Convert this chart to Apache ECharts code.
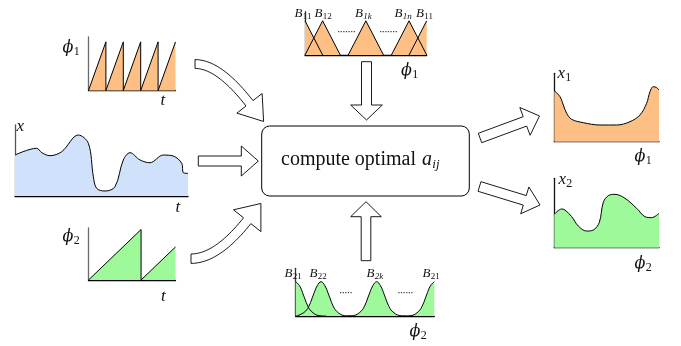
<!DOCTYPE html>
<html>
<head>
<meta charset="utf-8">
<script src="https://cdn.jsdelivr.net/npm/echarts@6/dist/echarts.min.js"></script>
<style>
  html, body { margin: 0; padding: 0; background: #fff; }
  #chart { width: 681px; height: 346px; }
</style>
</head>
<body>
<div id="chart"></div>
<script>
// ---------- values ----------
// phase signal phi1: sawtooth, five periods
const phi1Saw = [[0,0],[1,1],[1,0],[2,1],[2,0],[3,1],[3,0],[4,1],[4,0],[5,1]];
// phase signal phi2: slower sawtooth, one and a bit periods
const phi2Saw = [[0,0],[1,1],[1,0],[1.655,0.655]];

// measured signal x(t)
const xSignal = [
  [0,0.577],[1.25,0.672],[1.55,0.61],[2.02,0.568],[2.70,0.624],[3.66,0.859],
  [4.24,0.742],[4.53,0.272],[4.72,0.108],[5.20,0.070],[5.78,0.131],[6.26,0.507],
  [6.65,0.610],[7.23,0.507],[7.80,0.469],[8.57,0.577],[9.15,0.563],[9.64,0.460],
  [9.73,0.328],[10,0.319]
];

// triangular basis functions over phi1
const triB11a = [[0,1],[1,0]];
const triB12  = [[0,0],[1,1],[2,0]];
const triB1k  = [[2.45,0],[3.45,1],[4.45,0]];
const triB1n  = [[4.9,0],[5.9,1],[6.9,0]];
const triB11b = [[5.9,0],[6.9,1]];

// bump basis functions over phi2
const bumpB21a = [[0,1],[2.8,0.88],[5.6,0.61],[8.4,0.32],[11.2,0.14],[16.8,0.01],[22,0]];
const bumpB22  = [[0,0],[1.5,0.01],[7.1,0.14],[9.9,0.32],[12.7,0.61],[15.5,0.88],[18.3,1],
                  [21.1,0.88],[23.9,0.61],[26.7,0.32],[29.5,0.14],[35.1,0.01],[40,0]];
const bumpB2k  = [[38,0],[41.6,0.01],[47.2,0.14],[50,0.32],[52.8,0.61],[55.6,0.88],[58.4,1],
                  [61.2,0.88],[64,0.61],[66.8,0.32],[69.6,0.14],[75.2,0.01],[79,0]];
const bumpB21b = [[78,0],[83.2,0.01],[88.8,0.14],[91.6,0.32],[94.4,0.61],[97.2,0.88],[100,1]];

// estimated output curves x1(phi1), x2(phi2)
const x1Curve = [
  [0,0.746],[0.054,0.659],[0.086,0.537],[0.118,0.415],[0.166,0.327],[0.277,0.278],
  [0.436,0.244],[0.596,0.244],[0.723,0.293],[0.818,0.390],[0.882,0.561],[0.914,0.732],
  [0.946,0.805],[0.978,0.790],[1.0,0.756]
];
const x2Curve = [
  [0,0.481],[0.070,0.558],[0.102,0.543],[0.166,0.447],[0.229,0.313],[0.309,0.240],
  [0.373,0.255],[0.430,0.365],[0.468,0.654],[0.516,0.750],[0.580,0.769],[0.675,0.712],
  [0.787,0.567],[0.866,0.447],[0.930,0.433],[1.0,0.495]
];

// text
const boxText = 'compute optimal';
const topLabels = [['B','11'],['B','12'],['B','1k'],['B','1n'],['B','11']];
const bottomLabels = [['B','21'],['B','22'],['B','2k'],['B','21']];

// ---------- styling ----------
const ORANGE = '#fdbf83';
const GREEN = '#9ef99a';
const BLUE = '#d0e1fb';
const SERIF = '"Liberation Serif","DejaVu Serif",serif';
const PHI_FONT = '"DejaVu Serif",serif';

const chart = echarts.init(document.getElementById('chart'), null, { renderer: 'canvas' });

// panel layout: [left, top, width, height, xmin, xmax, ymax, yAxisColor]
const panels = [
  [88.5, 37, 87, 53.5, 0, 5, 1.1, '#6a6a6a'],        // 0 phi1 sawtooth
  [15, 125, 173, 71, 0, 10, 1, '#555'],              // 1 x(t)
  [88.5, 228, 87, 52, 0, 1.655, 1.03, '#6a6a6a'],    // 2 phi2 sawtooth
  [305, 11.7, 121.7, 43.3, 0, 6.9, 1.266, '#333'],   // 3 B1 basis
  [295.7, 268.3, 138.6, 47.7, 0, 100, 1.39, '#333'], // 4 B2 basis
  [554.3, 73.3, 104.7, 68.4, 0, 1, 1, '#111'],       // 5 x1
  [554.3, 178.3, 104.7, 69.4, 0, 1, 1, '#111']       // 6 x2
];

const grids = panels.map(p => ({ left: p[0], top: p[1], width: p[2], height: p[3] }));
const xAxes = panels.map((p, i) => ({
  gridIndex: i, type: 'value', min: p[4], max: p[5],
  axisLine: { show: true, onZero: false, lineStyle: { color: '#000', width: 1.3 } },
  axisTick: { show: false }, axisLabel: { show: false }, splitLine: { show: false }
}));
const yAxes = panels.map((p, i) => ({
  gridIndex: i, type: 'value', min: 0, max: p[6],
  axisLine: { show: true, onZero: false, lineStyle: { color: p[7], width: 1.3 } },
  axisTick: { show: false }, axisLabel: { show: false }, splitLine: { show: false }
}));

function filled(data, idx, color, smooth) {
  return {
    type: 'line', data, xAxisIndex: idx, yAxisIndex: idx, showSymbol: false,
    smooth: smooth || false, animation: false, z: 3,
    lineStyle: { color: '#000', width: 1 },
    areaStyle: { color, opacity: 1 }
  };
}
// basis functions: fills first, outlines drawn over every fill
function basisFill(data, idx, color, smooth) {
  return {
    type: 'line', data, xAxisIndex: idx, yAxisIndex: idx, showSymbol: false,
    smooth: smooth || false, animation: false, z: 2,
    lineStyle: { width: 0, opacity: 0 },
    areaStyle: { color, opacity: 1 }
  };
}
function basisLine(data, idx, smooth) {
  return {
    type: 'line', data, xAxisIndex: idx, yAxisIndex: idx, showSymbol: false,
    smooth: smooth || false, animation: false, z: 4,
    lineStyle: { color: '#000', width: 1 }
  };
}

const tris = [triB11a, triB12, triB1k, triB1n, triB11b];
const bumps = [bumpB21a, bumpB22, bumpB2k, bumpB21b];

const series = [
  filled(phi1Saw, 0, ORANGE),
  filled(xSignal, 1, BLUE, 0.35),
  filled(phi2Saw, 2, GREEN),
  ...tris.map(d => basisFill(d, 3, ORANGE)),
  ...tris.map(d => basisLine(d, 3)),
  ...bumps.map(d => basisFill(d, 4, GREEN, 0.4)),
  ...bumps.map(d => basisLine(d, 4, 0.4)),
  filled(x1Curve, 5, ORANGE, 0.35),
  filled(x2Curve, 6, GREEN, 0.35)
];

// ---------- annotation graphics ----------
const measureCtx = document.createElement('canvas').getContext('2d');
function textWidth(str, font) { measureCtx.font = font; return measureCtx.measureText(str).width; }

function txt(x, y, text, font) {
  return { type: 'text', x, y, z: 20,
    style: { text, font, fill: '#111', align: 'left', verticalAlign: 'middle',
             textAlign: 'left', textVerticalAlign: 'middle' } };
}
// symbol with subscript
function sym(x, y, base, sub, size, subSize, subItalic, subDy, family) {
  const f1 = `italic ${size}px ${family || SERIF}`;
  const f2 = `${subItalic ? 'italic ' : ''}${subSize}px ${SERIF}`;
  const w = textWidth(base, f1);
  const out = [txt(x, y, base, f1)];
  if (sub) out.push(txt(x + w + 0.3, y + subDy, sub, f2));
  return out;
}
function subItalic(s) { return /[a-z]/.test(s); }

// arrows drawn as outlined polygons
function straightArrow(sx, sy, tx, ty, w, hw, hl) {
  const L = Math.hypot(tx - sx, ty - sy);
  const dx = (tx - sx) / L, dy = (ty - sy) / L, nx = -dy, ny = dx;
  const bx = tx - dx * hl, by = ty - dy * hl;
  return arrowShape([
    [sx + nx * w, sy + ny * w], [bx + nx * w, by + ny * w], [bx + nx * hw, by + ny * hw],
    [tx, ty],
    [bx - nx * hw, by - ny * hw], [bx - nx * w, by - ny * w], [sx - nx * w, sy - ny * w]
  ]);
}
function curvedArrow(p0, c, p1, w, hw, hl) {
  const N = 24, left = [], right = [];
  let dx = 0, dy = 0;
  for (let i = 0; i <= N; i++) {
    const t = i / N, u = 1 - t;
    const x = u * u * p0[0] + 2 * u * t * c[0] + t * t * p1[0];
    const y = u * u * p0[1] + 2 * u * t * c[1] + t * t * p1[1];
    const tx = 2 * u * (c[0] - p0[0]) + 2 * t * (p1[0] - c[0]);
    const ty = 2 * u * (c[1] - p0[1]) + 2 * t * (p1[1] - c[1]);
    const L = Math.hypot(tx, ty);
    dx = tx / L; dy = ty / L;
    left.push([x - dy * w, y + dx * w]);
    right.push([x + dy * w, y - dx * w]);
  }
  const nx = -dy, ny = dx;
  const tip = [p1[0] + dx * hl, p1[1] + dy * hl];
  const pts = left.concat([
    [p1[0] + nx * hw, p1[1] + ny * hw], tip, [p1[0] - nx * hw, p1[1] - ny * hw]
  ], right.reverse());
  return arrowShape(pts);
}
function arrowShape(points) {
  return { type: 'polygon', z: 15, shape: { points },
    style: { fill: '#fff', stroke: '#000', lineWidth: 0.9, lineJoin: 'miter' } };
}
function dotted(x1, y, x2) {
  return { type: 'line', z: 15, shape: { x1, y1: y, x2, y2: y },
    style: { stroke: '#000', lineWidth: 0.9, lineDash: [1.3, 1.3] } };
}

const graphics = [];
// central box
graphics.push({ type: 'rect', z: 10, shape: { x: 261.7, y: 126, width: 207.6, height: 70, r: 8 },
  style: { fill: '#fff', stroke: '#000', lineWidth: 1 } });
const boxFont = `20px ${SERIF}`;
const boxLeft = 281;
graphics.push(txt(boxLeft, 159.5, boxText, boxFont));
const aLeft = boxLeft + textWidth(boxText + ' ', boxFont) + 1;
graphics.push(...sym(aLeft, 159.5, 'a', 'ij', 20, 13, true, 5));

// arrows
graphics.push(curvedArrow([195, 64], [219, 64], [249.5, 103.3], 4.4, 16, 23));
graphics.push(curvedArrow([191, 258.7], [217, 258.7], [247.2, 220.7], 4.7, 17.5, 22));
graphics.push(straightArrow(198.3, 161, 258.3, 161, 5, 15, 17));
graphics.push(straightArrow(366.5, 61.7, 366.5, 120, 5, 15.8, 15));
graphics.push(straightArrow(366, 260.7, 366, 201.7, 4.8, 15.3, 15));
graphics.push(straightArrow(480, 138, 539.5, 116, 5, 14.8, 15.5));
graphics.push(straightArrow(479.5, 186.5, 540, 205, 5, 14, 15.9));

// dotted gaps between basis functions
graphics.push(dotted(338, 31.7, 356), dotted(380, 31.7, 397));
graphics.push(dotted(340, 292.7, 352), dotted(398.3, 292.7, 413.3));

// axis symbols
const SYM = 16, SUB = 12, LET = 17;
graphics.push(...sym(62.5, 48, 'ϕ', '1', SYM, SUB, false, 4, PHI_FONT));
graphics.push(txt(160.5, 101, 't', `italic ${LET}px ${SERIF}`));
graphics.push(txt(16.5, 127, 'x', `italic ${LET}px ${SERIF}`));
graphics.push(txt(175.5, 208, 't', `italic ${LET}px ${SERIF}`));
graphics.push(...sym(62.5, 237, 'ϕ', '2', SYM, SUB, false, 4, PHI_FONT));
graphics.push(txt(161, 297, 't', `italic ${LET}px ${SERIF}`));

graphics.push(...sym(401, 71, 'ϕ', '1', SYM, SUB, false, 4, PHI_FONT));
graphics.push(...sym(409.5, 332, 'ϕ', '2', SYM, SUB, false, 4, PHI_FONT));

graphics.push(...sym(557.5, 74, 'x', '1', LET, SUB, false, 4));
graphics.push(...sym(634.5, 157, 'ϕ', '1', SYM, SUB, false, 4, PHI_FONT));
graphics.push(...sym(558.5, 180, 'x', '2', LET, SUB, false, 4));
graphics.push(...sym(634.5, 264, 'ϕ', '2', SYM, SUB, false, 4, PHI_FONT));

// basis labels
const topX = [294.5, 314.5, 355, 394.5, 416];
topLabels.forEach((l, i) => graphics.push(...sym(topX[i], 13.5, l[0], l[1], 13, 9, subItalic(l[1]), 3)));
const botX = [284.5, 309.5, 366.5, 422.5];
bottomLabels.forEach((l, i) => graphics.push(...sym(botX[i], 273.3, l[0], l[1], 13, 9, subItalic(l[1]), 3)));

chart.setOption({
  animation: false,
  backgroundColor: '#fff',
  grid: grids,
  xAxis: xAxes,
  yAxis: yAxes,
  series,
  graphic: { elements: graphics }
});
</script>
</body>
</html>
